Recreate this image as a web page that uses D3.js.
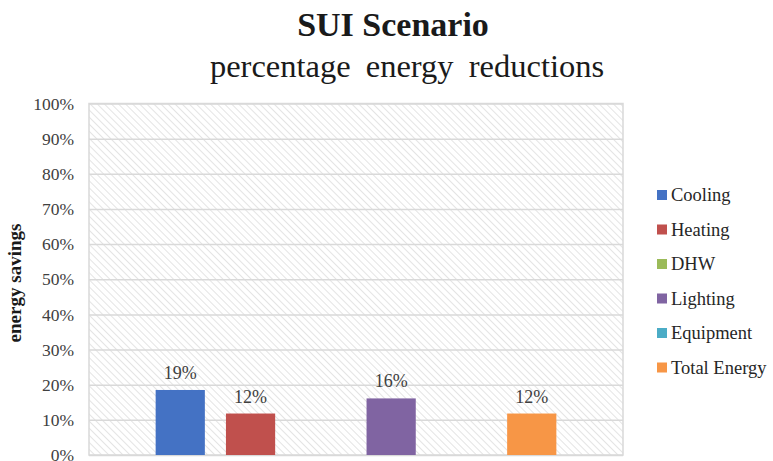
<!DOCTYPE html>
<html>
<head>
<meta charset="utf-8">
<script src="https://cdn.jsdelivr.net/npm/d3@7/dist/d3.min.js"></script>
<style>
  body { margin: 0; background: #fff; }
  text { font-family: 'Liberation Serif', 'Times New Roman', serif; }
</style>
</head>
<body>
<div id="chart"></div>
<script>
// chart data
const series = ['Cooling', 'Heating', 'DHW', 'Lighting', 'Equipment', 'Total Energy'];
const savings = [0.185, 0.118, 0, 0.161, 0, 0.118];
const valueLabels = ['19%', '12%', '', '16%', '', '12%'];
const colors = ['#4472c4', '#c0504d', '#9bbb59', '#8064a2', '#4bacc6', '#f79646'];
const yTicks = [0, 0.1, 0.2, 0.3, 0.4, 0.5, 0.6, 0.7, 0.8, 0.9, 1];

const serif = "'Liberation Serif', 'Times New Roman', serif";
const width = 773;
const height = 461;
const margin = { top: 103.5, right: 150, bottom: 6, left: 89 };
const plotW = width - margin.left - margin.right;
const plotH = height - margin.top - margin.bottom;

const svg = d3.select('#chart')
  .append('svg')
  .attr('width', width)
  .attr('height', height)
  .attr('viewBox', `0 0 ${width} ${height}`)
  .attr('font-family', serif);

// diagonal hatch for the plot background
const defs = svg.append('defs');
defs.append('pattern')
  .attr('id', 'hatch')
  .attr('patternUnits', 'userSpaceOnUse')
  .attr('width', 5)
  .attr('height', 5)
  .attr('patternTransform', 'rotate(-45)')
  .append('line')
  .attr('x1', 0).attr('y1', 0)
  .attr('x2', 0).attr('y2', 5)
  .attr('stroke', '#d6d6d6')
  .attr('stroke-width', 1.3);

// titles
svg.append('text')
  .attr('x', 393)
  .attr('y', 36)
  .attr('text-anchor', 'middle')
  .attr('font-size', 34)
  .attr('font-weight', 'bold')
  .attr('fill', '#1a1a1a')
  .text('SUI Scenario');

svg.append('text')
  .attr('x', 407)
  .attr('y', 77)
  .attr('text-anchor', 'middle')
  .attr('font-size', 32.5)
  .attr('word-spacing', 7)
  .attr('fill', '#1a1a1a')
  .text('percentage energy reductions');

const g = svg.append('g')
  .attr('transform', `translate(${margin.left}, ${margin.top})`);

const y = d3.scaleLinear()
  .domain([0, 1])
  .range([plotH, 0]);

const x0 = d3.scaleBand()
  .domain(['SUI'])
  .range([0, plotW])
  .paddingOuter(0.133);

const x1 = d3.scaleBand()
  .domain(series)
  .range([0, x0.bandwidth()])
  .paddingInner(0.3)
  .paddingOuter(0.15);

g.append('rect')
  .attr('width', plotW)
  .attr('height', plotH)
  .attr('fill', 'url(#hatch)')
  .attr('stroke', '#d9d9d9')
  .attr('stroke-width', 1.5);

// y axis with grid lines
const yAxis = g.append('g')
  .call(d3.axisLeft(y)
    .tickValues(yTicks)
    .tickFormat(d3.format('.0%'))
    .tickSize(-plotW)
    .tickPadding(15));

yAxis.attr('font-family', serif);
yAxis.select('.domain').remove();
yAxis.selectAll('.tick line')
  .attr('stroke', '#d9d9d9')
  .attr('stroke-width', 1.5);
yAxis.selectAll('.tick text')
  .attr('font-family', serif)
  .attr('font-size', 17.5)
  .attr('fill', '#404040');

svg.append('text')
  .attr('transform', `translate(21, 283) rotate(-90)`)
  .attr('text-anchor', 'middle')
  .attr('font-size', 19)
  .attr('font-weight', 'bold')
  .attr('fill', '#1a1a1a')
  .text('energy savings');

// bars
const group = g.append('g')
  .attr('transform', `translate(${x0('SUI')}, 0)`);

group.selectAll('rect.bar')
  .data(series)
  .join('rect')
  .attr('class', 'bar')
  .attr('x', (d) => x1(d))
  .attr('y', (d, i) => y(savings[i]))
  .attr('width', x1.bandwidth())
  .attr('height', (d, i) => plotH - y(savings[i]))
  .attr('fill', (d, i) => colors[i]);

group.selectAll('text.value')
  .data(series)
  .join('text')
  .attr('class', 'value')
  .attr('x', (d) => x1(d) + x1.bandwidth() / 2)
  .attr('y', (d, i) => y(savings[i]) - 11)
  .attr('text-anchor', 'middle')
  .attr('font-size', 18)
  .attr('fill', '#404040')
  .text((d, i) => valueLabels[i]);

// legend
const legend = svg.append('g')
  .attr('transform', 'translate(657, 195)');

const item = legend.selectAll('g')
  .data(series)
  .join('g')
  .attr('transform', (d, i) => `translate(0, ${i * 34.5})`);

item.append('rect')
  .attr('y', -5)
  .attr('width', 10)
  .attr('height', 10)
  .attr('fill', (d, i) => colors[i]);

item.append('text')
  .attr('x', 14)
  .attr('y', 6)
  .attr('font-size', 18.5)
  .attr('fill', '#262626')
  .text((d) => d);
</script>
</body>
</html>
